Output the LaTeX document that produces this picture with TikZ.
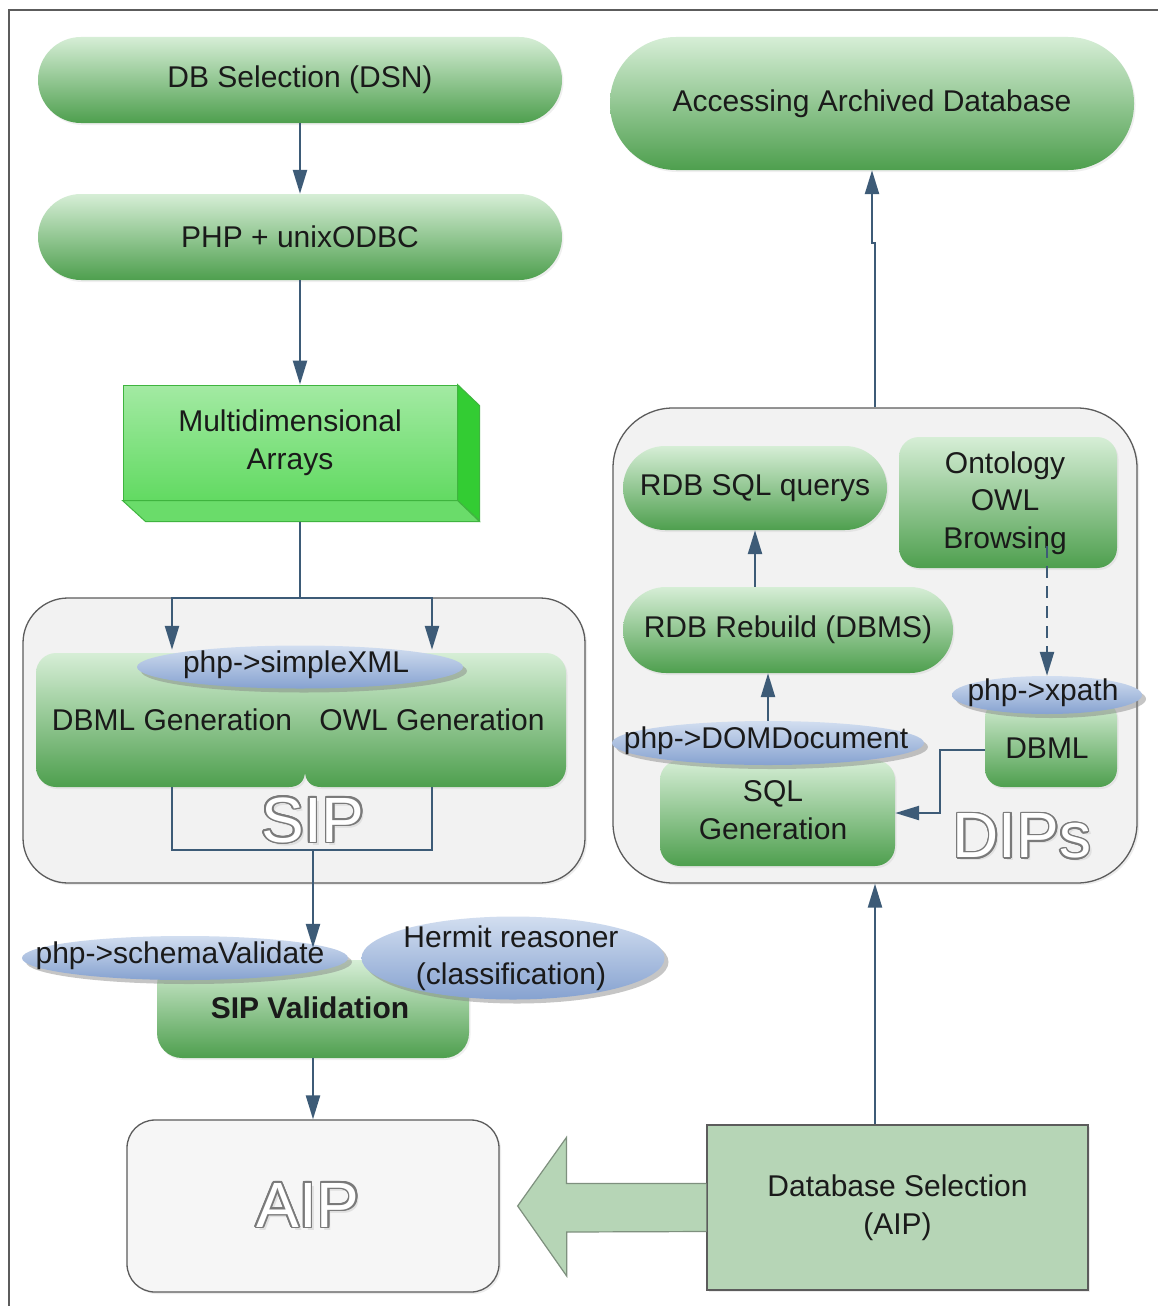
\documentclass[tikz,border=0pt]{standalone}
\usepackage{fontspec}
\setmainfont{Liberation Sans}
\usetikzlibrary{arrows.meta,shapes.geometric,shadows,calc}

\definecolor{ink}{HTML}{1A1A1A}
\definecolor{flow}{HTML}{3D5B77}
\definecolor{gtop}{HTML}{D6EED6}
\definecolor{gbot}{HTML}{4E9F4E}
\definecolor{btop}{HTML}{D2DEF0}
\definecolor{bbot}{HTML}{86A2D0}
\definecolor{boxtop}{HTML}{A3EAA3}
\definecolor{boxbot}{HTML}{62DA62}
\definecolor{boxside}{HTML}{33CC33}
\definecolor{boxfloor}{HTML}{6ADC6A}
\definecolor{boxedge}{HTML}{3FB43F}
\definecolor{cont}{HTML}{F2F2F2}
\definecolor{contedge}{HTML}{5C5C5C}
\definecolor{pale}{HTML}{B6D5B6}
\definecolor{paleedge}{HTML}{7E907E}
\definecolor{aipfill}{HTML}{F6F6F6}
\definecolor{hollowedge}{HTML}{7A7A7A}

% outlined lettering: grey copies around a white core
\newcommand\hollowword[3]{%
  \node[hollow, text=black!12, shift={(3pt,-3pt)}] at (#2) {#3};
  \foreach \ang in {0,22.5,...,337.5}
    \node[hollow, text=hollowedge, shift={(\ang:1.6pt)}] at (#2) {#3};
  \node[hollow, text=white] (#1) at (#2) {#3};}

\begin{document}
\begin{tikzpicture}[x=1pt,y=-1pt,
  lbl/.style={font=\fontsize{30}{37.5}\selectfont, text=ink, align=center, inner sep=0pt},
  greenbox/.style={lbl, top color=gtop, bottom color=gbot, rounded corners=#1,
    drop shadow={opacity=0.12, shadow xshift=1.5pt, shadow yshift=-2pt}},
  greenbox/.default=20pt,
  bubble/.style={ellipse, inner sep=0pt, top color=btop, bottom color=bbot,
    drop shadow={opacity=0.45, shadow xshift=4pt, shadow yshift=-4pt}},
  container/.style={draw=contedge, line width=1.3pt, fill=cont, rounded corners=#1,
    drop shadow={opacity=0.15, shadow xshift=2pt, shadow yshift=-2pt}},
  hollow/.style={font=\fontsize{64}{70}\selectfont, inner sep=0pt},
  arr/.style={draw=flow, line width=2.4pt, -{Triangle[length=24pt,width=14pt]}},
  link/.style={draw=flow, line width=2.4pt},
]
\useasboundingbox (0,0) rectangle (1157,1306);
\fill[white] (0,0) rectangle (1157,1306);
\draw[contedge, line width=1.3pt] (1180,10) -- (9,10) -- (9,1330);

% ---- group containers
\node[container=45pt, minimum width=562pt, minimum height=285pt] (sip) at (304,740.5) {};
\node[container=60pt, minimum width=524pt, minimum height=475pt] (dips) at (875,645.5) {};

% ---- left column
\node[greenbox=43pt, minimum width=524pt, minimum height=86pt] (dsn) at (300,80) {DB Selection (DSN)};
\node[greenbox=43pt, minimum width=524pt, minimum height=86pt] (php) at (300,237) {PHP + unixODBC};

% extruded block
\node[lbl, draw=boxedge, line width=1pt, top color=boxtop, bottom color=boxbot,
      minimum width=334pt, minimum height=115pt] (ma) at (290,442.5) {Multidimensional\\Arrays};
\filldraw[fill=boxside, draw=boxedge, line width=1pt]
  (ma.north east) -- ++(22,21) -- ++(0,115) -- (ma.south east) -- cycle;
\filldraw[fill=boxfloor, draw=boxedge, line width=1pt]
  (ma.south west) -- (ma.south east) -- ++(22,21) -- ++(-334,0) -- cycle;
\coordinate (mabot) at ($(ma.south)+(10,21)$);

% joined DBML / OWL generation shape
\path[top color=gtop, bottom color=gbot, drop shadow={opacity=0.12, shadow xshift=1.5pt, shadow yshift=-2pt}]
  (56,653) -- (546,653) .. controls (557,653) and (566,662) .. (566,673)
  -- (566,767) .. controls (566,778) and (557,787) .. (546,787)
  -- (321,787) .. controls (311,787) and (305,781) .. (305,771)
  .. controls (305,781) and (299,787) .. (289,787)
  -- (56,787) .. controls (45,787) and (36,778) .. (36,767)
  -- (36,673) .. controls (36,662) and (45,653) .. (56,653) -- cycle;
\node[lbl, minimum width=262pt, minimum height=134pt] (dbmlgen) at (172,720) {DBML Generation};
\node[lbl, minimum width=258pt, minimum height=134pt] (owlgen) at (432,720) {OWL Generation};

\hollowword{siplabel}{313,820}{SIP}

\node[greenbox=25pt, minimum width=312pt, minimum height=98pt] (sipv) at (313,1009) {};
\node[lbl] (sipvtext) at (310,1008) {\textbf{SIP Validation}};

\node[lbl, draw=contedge, line width=1.3pt, fill=aipfill, rounded corners=28pt,
      minimum width=372pt, minimum height=172pt,
      drop shadow={opacity=0.15, shadow xshift=2pt, shadow yshift=-2pt}] (aip) at (313,1206) {};
\hollowword{aiplabel}{308,1205}{AIP}

% ---- right column
\node[greenbox=66pt, minimum width=524pt, minimum height=133pt] (acc) at (872,103.5) {Accessing Archived Database};

\node[greenbox=42pt, minimum width=264pt, minimum height=84pt] (rsq) at (755,488) {RDB SQL querys};
\node[greenbox=20pt, minimum width=218pt, minimum height=131pt] (ont) at (1008,502.5) {};
\node[lbl] (onttext) at (1005,503) {Ontology\\OWL\\Browsing};
\node[greenbox=43pt, minimum width=330pt, minimum height=86pt] (rrb) at (788,630) {RDB Rebuild (DBMS)};
\node[greenbox=20pt, minimum width=235pt, minimum height=106pt] (sqlg) at (777.5,813) {};
\node[lbl] (sqlgtext) at (773,810) {SQL\\Generation};
\node[greenbox=18pt, minimum width=132pt, minimum height=87pt] (dbml) at (1051,743.5) {};
\node[lbl] (dbmltext) at (1047,748) {DBML};

\hollowword{dipslabel}{1022,836}{DIPs}

% block arrow and its source box
\node[lbl, draw=contedge, line width=1.2pt, fill=pale, minimum width=381pt, minimum height=165pt,
      drop shadow={opacity=0.15, shadow xshift=2pt, shadow yshift=-2pt}] (dbs) at (897.5,1207.5)
      {Database Selection\\(AIP)};
\filldraw[fill=pale, draw=paleedge, line width=1.2pt]
  ($(dbs.west)+(0,-24)$) -- ++(-140,0) -- ++(0,-46) -- ($(aip.east)+(18,0)$)
  -- ++(49,70) -- ++(0,-44) -- ($(dbs.west)+(0,24)$);

% ---- annotation ellipses
\node[bubble, minimum width=326pt, minimum height=43pt] (simplexml) at (300,667) {};
\node[lbl] (simplexmltext) at (296,665) {php->simpleXML};
\node[bubble, minimum width=326pt, minimum height=44pt] (schemav) at (185,958) {};
\node[lbl] (schemavtext) at (180,956) {php->schemaValidate};
\node[bubble, minimum width=303pt, minimum height=83pt] (hermit) at (513,958) {};
\node[lbl] (hermittext) at (511,958) {Hermit reasoner\\(classification)};
\node[bubble, minimum width=312pt, minimum height=44pt] (domdoc) at (768,743) {};
\node[lbl] (domdoctext) at (766,741) {php->DOMDocument};
\node[bubble, minimum width=190pt, minimum height=38pt] (xpath) at (1047,695) {};
\node[lbl] (xpathtext) at (1043,693) {php->xpath};

% ---- connectors
\draw[arr] (dsn.south) -- (php.north);
\draw[arr] (php.south) -- (php.south |- ma.north);
\coordinate (split) at (300,598);
\draw[link] (mabot) -- (split);
\draw[arr, shorten >=3pt] (split) -| (dbmlgen.north);
\draw[arr, shorten >=3pt] (split) -| (owlgen.north);
\coordinate (merge) at (313,850);
\draw[link] (dbmlgen.south) |- (merge) -| (owlgen.south);
\draw[arr, shorten >=12pt] (merge) -- (sipv.north);
\draw[arr] (sipv.south) -- (aip.north);

\draw[arr] (dbs.north -| dips.south) -- (dips.south);
\draw[arr] (dips.north) -- (dips.north |- 0,243) -- (acc.south |- 0,243) -- (acc.south);
\draw[arr] (rrb.north -| rsq.south) -- (rsq.south);
\draw[arr] (domdoc.north) -- (rrb.south -| domdoc.north);
\draw[arr, dash pattern=on 12pt off 8pt] ([yshift=22pt]ont.south -| xpath.north) -- (xpath.north);
\coordinate (elbow) at (940,750);
\draw[arr] (dbml.west |- elbow) -- (elbow) |- (sqlg.east);
\end{tikzpicture}
\end{document}
